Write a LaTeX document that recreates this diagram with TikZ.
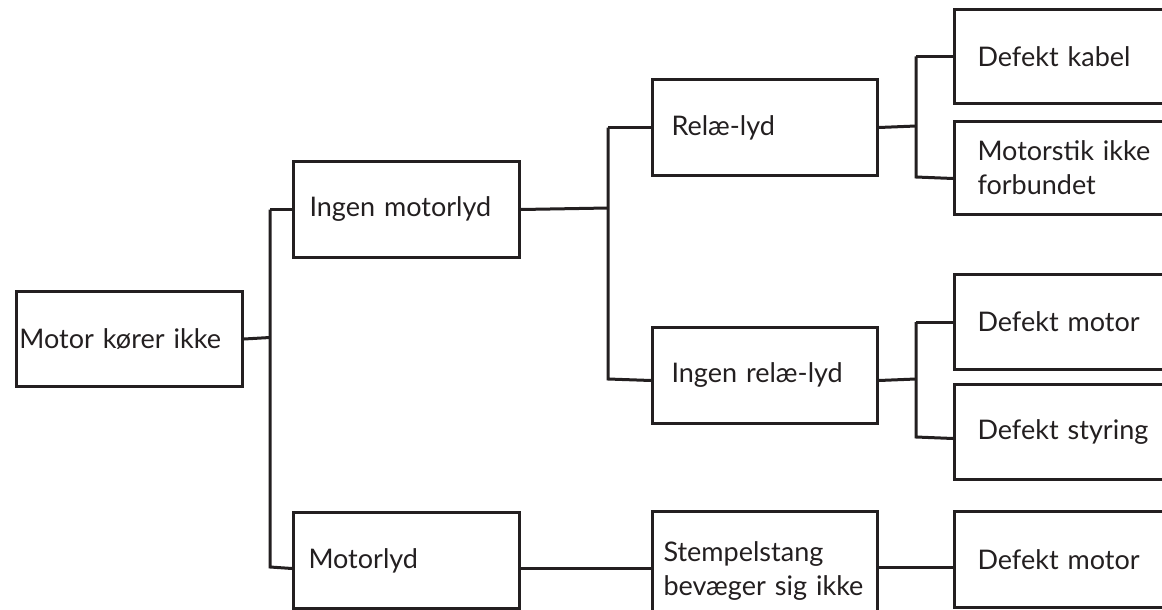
\documentclass[tikz,border=0pt]{standalone}
\usepackage{fontspec}
\setmainfont{Lato}
\usetikzlibrary{calc}
\definecolor{ink}{HTML}{231F20}
\tikzset{
  box/.style={draw=ink, text=ink, rectangle, anchor=north west, align=left,
    inner ysep=0pt, line width=3pt, font=\fontsize{27}{34}\selectfont},
  conn/.style={draw=ink, line width=3pt}
}
\begin{document}
\begin{tikzpicture}[x=1pt,y=-1pt]
\useasboundingbox (0,0) rectangle (1162,610);
\clip (0,0) rectangle (1162,610);
% column 1
\node[box, minimum height=95pt, inner xsep=3pt, text width=220pt] (n1) at (15,290) {Motor kører ikke};
% column 2
\node[box, minimum height=96pt, inner xsep=16pt, text width=194pt] (n2) at (292,160) {Ingen motorlyd};
\node[box, minimum height=96pt, inner xsep=15pt, text width=196pt] (n3) at (292,511) {Motorlyd};
% column 3
\node[box, minimum height=96pt, inner xsep=19pt, text width=187pt] (n4) at (651,78) {Relæ-lyd};
\node[box, minimum height=96pt, inner xsep=19pt, text width=187pt] (n5) at (651,326) {Ingen relæ-lyd};
\node[box, minimum height=120pt, inner xsep=11pt, text width=203pt] (n10) at (651,510) {Stempelstang\\bevæger sig ikke};
% column 4
\node[box, minimum height=94pt, inner xsep=23pt, text width=214pt] (n6) at (953,8) {Defekt kabel};
\node[box, minimum height=93pt, inner xsep=23pt, text width=214pt] (n7) at (953,120) {Motorstik ikke\\forbundet};
\node[box, minimum height=95pt, inner xsep=23pt, text width=214pt] (n8) at (953,273) {Defekt motor};
\node[box, minimum height=95pt, inner xsep=23pt, text width=214pt] (n9) at (953,383) {Defekt styring};
\node[box, minimum height=96pt, inner xsep=23pt, text width=214pt] (n11) at (953,510) {Defekt motor};
% junctions
\coordinate (j1) at (270,337.5);
\coordinate (j2) at (608,208);
\coordinate (j3) at (916,126);
\coordinate (j4) at (916,379);
% connectors
\draw[conn] (n1.east) -- (j1);
\draw[conn] (j1 |- n2.west) -- (n2.west);
\draw[conn] (j1 |- n2.west) -- (j1 |- 0,567) -- ([yshift=-8pt]n3.west);
\draw[conn] (n2.east) -- (j2);
\draw[conn] (j2 |- n4.west) -- (n4.west);
\draw[conn] (j2 |- n4.west) -- (j2 |- 0,379) -- ([yshift=-5pt]n5.west);
\draw[conn] (n4.east) -- (j3);
\draw[conn] (j3 |- n6.west) -- (n6.west);
\draw[conn] (j3 |- n6.west) -- (j3 |- 0,177) -- ([yshift=-10.5pt]n7.west);
\draw[conn] ([yshift=-5pt]n5.east) -- (j4);
\draw[conn] (j4 |- n8.west) -- (n8.west);
\draw[conn] (j4 |- n8.west) -- (j4 |- 0,437) -- ([yshift=-6.5pt]n9.west);
\draw[conn] ([yshift=-8pt]n3.east) coordinate (c1) -- (c1 -| n10.west);
\draw[conn] ([yshift=4pt]n10.east) coordinate (c2) -- (c2 -| n11.west);
\end{tikzpicture}
\end{document}
